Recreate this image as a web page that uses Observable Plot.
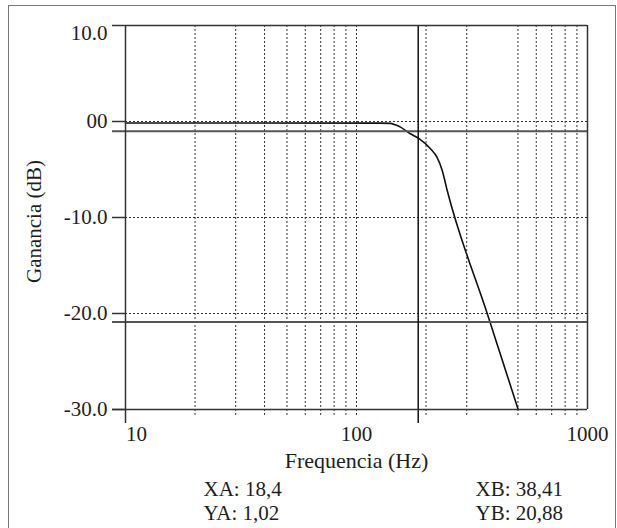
<!DOCTYPE html>
<html>
<head>
<meta charset="utf-8">
<script src="https://cdn.jsdelivr.net/npm/d3@7"></script>
<script src="https://cdn.jsdelivr.net/npm/@observablehq/plot@0.6"></script>
<style>
  html, body { margin: 0; padding: 0; background: #fff; overflow: hidden; width: 617px; height: 528px; }
  #box { position: absolute; left: 8px; top: 5px; width: 606px; height: 560px; border: 1.5px solid #777; }
  #chart { position: absolute; left: 0; top: 0; }
  #chart svg text { font-family: "Liberation Serif", "DejaVu Serif", serif; }
</style>
</head>
<body>
<div id="box"></div>
<div id="chart"></div>
<script>
// Frequency response
const freqHz = [10, 127, 140, 147, 155, 171, 186, 209, 223, 235, 247, 368, 501];
const gainDb = [-0.15, -0.17, -0.2, -0.35, -0.59, -1.28, -1.75, -2.84, -3.72, -5.1, -7.19, -20.0, -30.0];

const yTicks = [0, -10, -20, -30];
const yTickLabels = ["00", "-10.0", "-20.0", "-30.0"];
const yTopTick = [10];
const yTopLabel = ["10.0"];
const xTicks = [100, 1000];
const xTickLabels = ["100", "1000"];
const xFirstTick = [10];
const xFirstLabel = ["10"];
const gridHz = [20, 30, 40, 50, 60, 70, 80, 90, 100, 200, 300, 500, 600, 700, 800, 900];
const gridDb = [0, -10, -20];
const frameDb = [10, -30];
const cursorHz = [185];
const cursorDb = [-1.02, -20.88];
const readoutsA = ["XA: 18,4", "YA: 1,02"];
const readoutsB = ["XB: 38,41", "YB: 20,88"];
const xTitle = ["Frequencia (Hz)"];
const yTitle = ["Ganancia (dB)"];

const curve = freqHz.map((f, i) => ({f, g: gainDb[i]}));
const ink = "#1e1e1e";

const plot = Plot.plot({
  width: 617,
  height: 528,
  marginLeft: 125,
  marginRight: 30,
  marginTop: 25,
  marginBottom: 119,
  style: {fontFamily: "'Liberation Serif', serif", fontSize: "21px", color: ink, background: "transparent"},
  x: {type: "log", domain: [10, 1000]},
  y: {domain: [-30, 10]},
  marks: [
    Plot.ruleX(gridHz, {stroke: "#333", strokeWidth: 1, strokeDasharray: "2,2", insetBottom: -7}),
    Plot.ruleY(gridDb, {stroke: "#333", strokeWidth: 1, strokeDasharray: "2,2"}),
    Plot.line(curve, {x: "f", y: "g", stroke: "#111", strokeWidth: 1.6, curve: "monotone-x"}),
    Plot.ruleY(cursorDb, {stroke: "#555", strokeWidth: 2, insetLeft: -13}),
    Plot.ruleX(cursorHz, {stroke: "#111", strokeWidth: 1.5, insetBottom: -14}),
    Plot.ruleY(frameDb, {stroke: "#333", strokeWidth: 1.5, insetLeft: -13}),
    Plot.ruleX(xFirstTick, {stroke: "#333", strokeWidth: 1.5, insetBottom: -14}),
    Plot.ruleX([1000], {stroke: "#333", strokeWidth: 1.5}),
    Plot.axisY(yTicks, {tickSize: 13, tickPadding: 5, tickFormat: d => yTickLabels[yTicks.indexOf(d)], label: null, stroke: "#333", strokeWidth: 1.5, fill: ink}),
    Plot.axisY(yTopTick, {tickSize: 0, tickPadding: 18, dy: 8, tickFormat: d => yTopLabel[yTopTick.indexOf(d)], label: null, fill: ink}),
    Plot.axisX(xTicks, {tickSize: 0, tickPadding: 17, tickFormat: d => xTickLabels[xTicks.indexOf(d)], label: null, fill: ink}),
    Plot.axisX(xFirstTick, {tickSize: 0, tickPadding: 17, dx: 11, tickFormat: d => xFirstLabel[xFirstTick.indexOf(d)], label: null, fill: ink}),
    Plot.text(xTitle, {frameAnchor: "bottom", textAnchor: "middle", lineAnchor: "middle", dy: 51, fontSize: 22, fill: ink}),
    Plot.text(yTitle, {frameAnchor: "left", textAnchor: "middle", lineAnchor: "middle", rotate: -90, dx: -91, dy: 4, fontSize: 21, fill: ink}),
    Plot.text([readoutsA.join("\n")], {frameAnchor: "bottom-left", textAnchor: "start", lineAnchor: "top", lineHeight: 1.16, dx: 78, dy: 69, fontSize: 21, fill: ink}),
    Plot.text([readoutsB.join("\n")], {frameAnchor: "bottom-right", textAnchor: "start", lineAnchor: "top", lineHeight: 1.16, dx: -112, dy: 69, fontSize: 21, fill: ink})
  ]
});
document.getElementById("chart").appendChild(plot);
</script>
</body>
</html>
